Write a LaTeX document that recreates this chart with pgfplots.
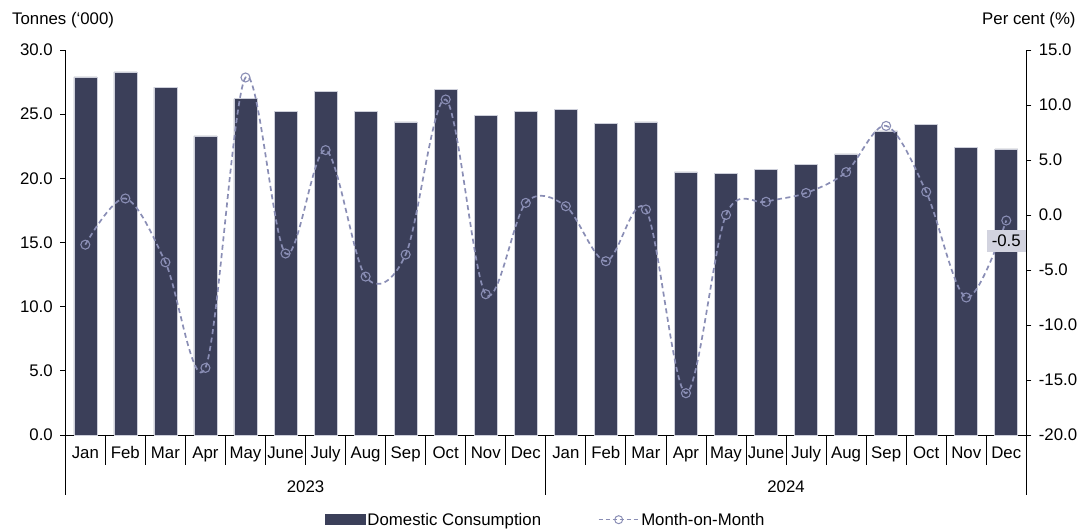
\documentclass[border=0pt]{standalone}
\usepackage{pgfplots}
\pgfplotsset{compat=1.18}
\usepackage{fontspec}
\setmainfont{Liberation Sans}
\definecolor{barc}{HTML}{3B3F59}
\definecolor{linec}{HTML}{8A8EB5}
\definecolor{lblc}{HTML}{D2D3DF}
\definecolor{barline}{HTML}{CDCFDA}
\pgfplotsset{numfmt/.style={/pgf/number format/fixed, /pgf/number format/fixed zerofill, /pgf/number format/precision=1, /pgf/number format/assume math mode=true}}
\begin{document}
\begin{tikzpicture}[font=\fontsize{16.8}{20}\selectfont]
\begin{axis}[
 scale only axis, width=961pt, height=385pt,
 at={(0,0)}, anchor=south west,
 xmin=-0.5, xmax=23.5, ymin=0, ymax=30,
 axis y line*=left, axis x line*=bottom,
 axis line style={black, line width=0.8pt},
 ytick={0,5,...,30},
 yticklabel style={numfmt, xshift=-4pt},
 tick align=outside, major tick length=5pt,
 tick style={black, line width=0.8pt},
 xtick={0,...,23},
 xtick style={draw=none},
 xticklabels={Jan,Feb,Mar,Apr,May,June,July,Aug,Sep,Oct,Nov,Dec,Jan,Feb,Mar,Apr,May,June,July,Aug,Sep,Oct,Nov,Dec},
 xticklabel style={anchor=base, yshift=-19pt},
 ybar, bar width=23pt,
 clip=false,
]
\addplot[fill=barc, draw=barline, line width=0.6pt] coordinates {
(0,27.9) (1,28.3) (2,27.1) (3,23.3) (4,26.2) (5,25.2) (6,26.8) (7,25.2) (8,24.4) (9,26.9) (10,24.9) (11,25.2)
(12,25.4) (13,24.3) (14,24.4) (15,20.5) (16,20.4) (17,20.7) (18,21.1) (19,21.9) (20,23.7) (21,24.2) (22,22.4) (23,22.3)};
\pgfplotsinvokeforeach{-0.5,0.5,1.5,2.5,3.5,4.5,5.5,6.5,7.5,8.5,9.5,10.5,12.5,13.5,14.5,15.5,16.5,17.5,18.5,19.5,20.5,21.5,22.5}{
 \draw[black, line width=0.8pt] (axis cs:#1,0) -- ++(0pt,-30pt);}
\pgfplotsinvokeforeach{-0.5,11.5,23.5}{
 \draw[black, line width=0.8pt] (axis cs:#1,0) -- ++(0pt,-60pt);}
\node[anchor=base] at ([yshift=-58pt]axis cs:5.5,0) {2023};
\node[anchor=base] at ([yshift=-58pt]axis cs:17.5,0) {2024};
\end{axis}
\begin{axis}[
 scale only axis, width=961pt, height=385pt,
 at={(0,0)}, anchor=south west,
 xmin=-0.5, xmax=23.5, ymin=-20, ymax=15,
 axis y line*=right, axis x line=none,
 axis line style={black, line width=0.8pt},
 ytick={-20,-15,...,15},
 yticklabel style={numfmt, xshift=4pt},
 tick align=outside, major tick length=5pt,
 tick style={black, line width=0.8pt},
 clip=false,
 legend columns=2,
 legend style={draw=none, fill=none, at={(0.5,-0.22)}, anchor=center,
   /tikz/every even column/.style={column sep=55pt},
   font=\fontsize{16.8}{20}\selectfont},
]
\addlegendimage{legend image code/.code={\fill[barc] (0pt,-5pt) rectangle (40pt,5pt);}}
\addlegendentry{Domestic Consumption}
\addplot[linec, line width=1.7pt, dash pattern=on 5pt off 3.5pt, smooth, tension=0.55,
  mark=o, mark size=4.5pt, mark options={solid, line width=1.1pt, fill=none},
  legend image code/.code={\draw[linec, line width=1.1pt, dash pattern=on 4pt off 3pt] (0pt,0pt) -- (40pt,0pt); \draw[linec, solid, line width=1pt] (20pt,0pt) circle (4pt);}]
 coordinates {
(0,-2.7) (1,1.5) (2,-4.3) (3,-13.9) (4,12.5) (5,-3.5) (6,5.9) (7,-5.6) (8,-3.6) (9,10.5) (10,-7.2) (11,1.1)
(12,0.8) (13,-4.2) (14,0.5) (15,-16.2) (16,0.0) (17,1.2) (18,2.0) (19,3.9) (20,8.1) (21,2.1) (22,-7.5) (23,-0.5)};
\addlegendentry{Month-on-Month}
\node[fill=lblc, text=black, inner xsep=5pt, inner ysep=5.5pt] at (axis cs:23,-2.36) {-0.5};
\end{axis}
\node[anchor=base west, inner sep=0pt] at (-53.3pt,410pt) {Tonnes (‘000)};
\node[anchor=base west, inner sep=0pt] at (916.7pt,410pt) {Per cent (\%)};
\pgfresetboundingbox
\path[use as bounding box] (-65.3pt,-94pt) rectangle (1011.7pt,435pt);
\end{tikzpicture}
\end{document}
